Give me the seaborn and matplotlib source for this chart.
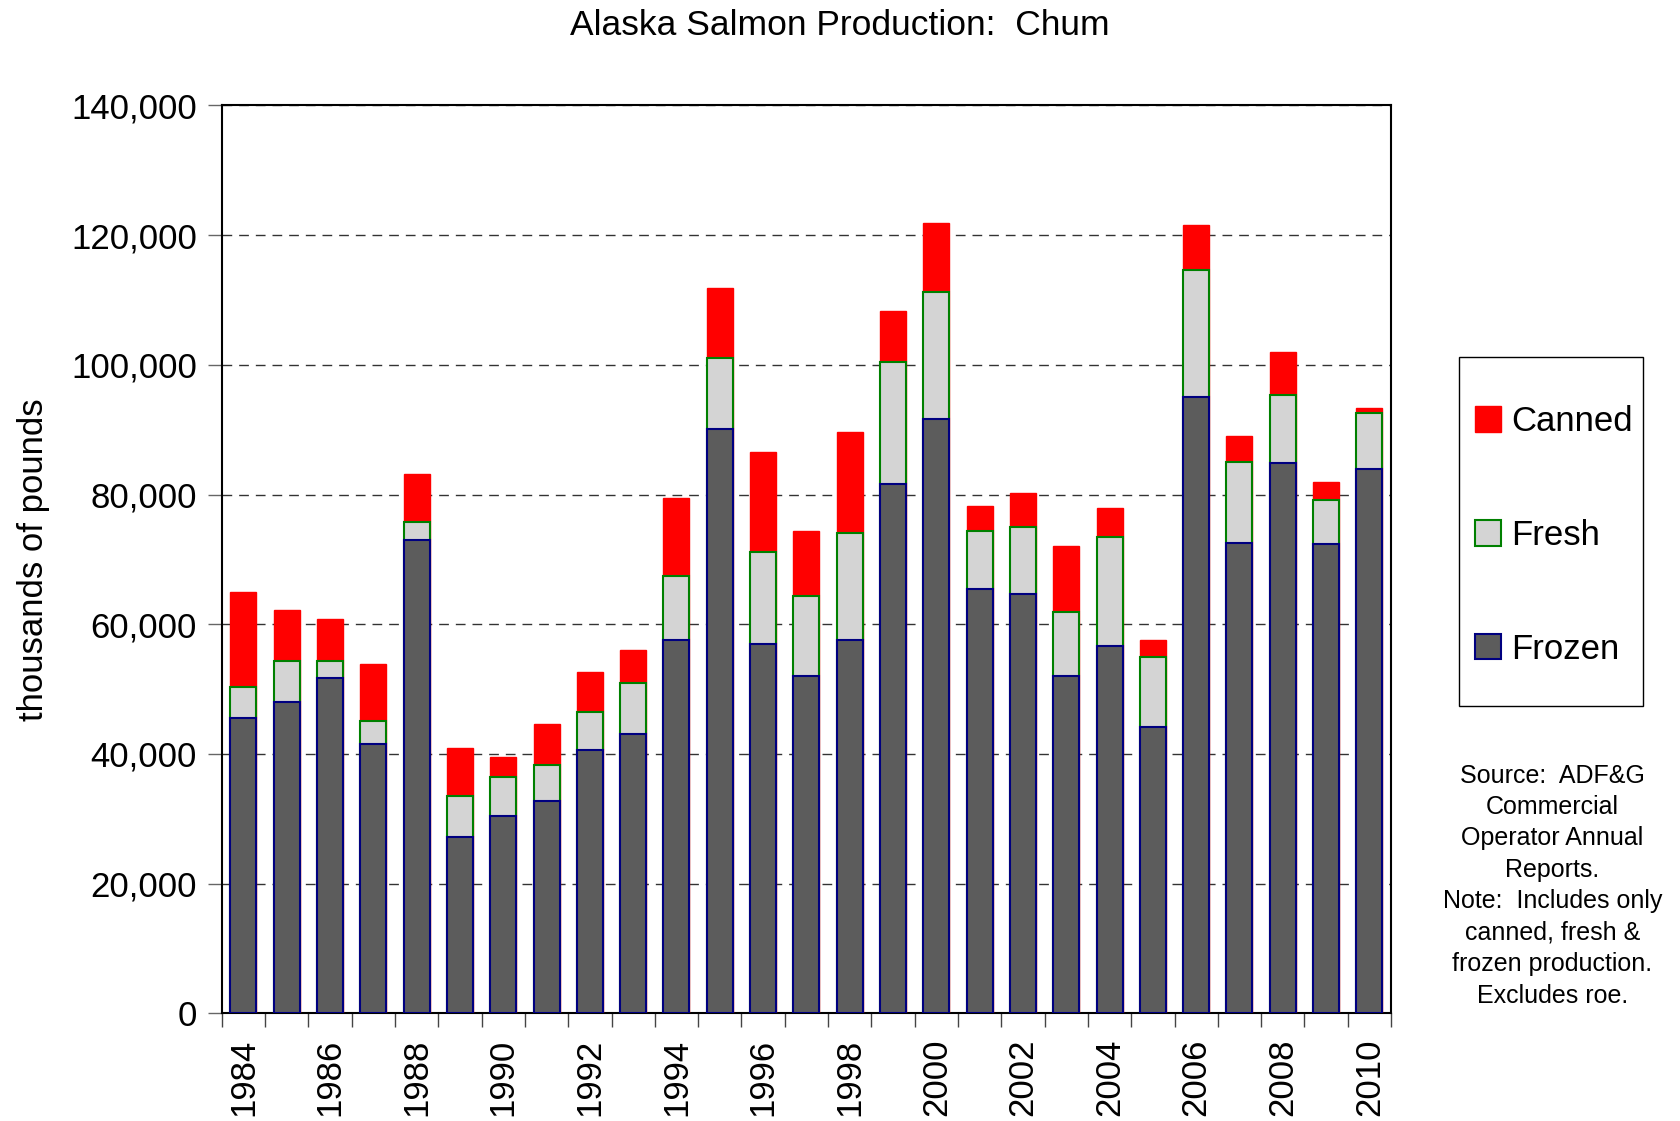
import pandas as pd
import seaborn as sns
import matplotlib.pyplot as plt
from matplotlib.patches import Patch, Rectangle

# --- data (thousands of pounds) ---
years = list(range(1984, 2011))
frozen = [45.6, 48.0, 51.7, 41.6, 73.0, 27.2, 30.5, 32.7, 40.6, 43.1,
          57.6, 90.1, 57.0, 52.0, 57.6, 81.6, 91.6, 65.5, 64.6, 52.0,
          56.6, 44.2, 95.1, 72.6, 84.9, 72.3, 84.0]
fresh = [4.8, 6.3, 2.6, 3.5, 2.8, 6.3, 6.0, 5.6, 5.8, 7.9,
         9.9, 10.9, 14.2, 12.4, 16.5, 18.8, 19.7, 8.8, 10.4, 9.9,
         16.9, 10.8, 19.5, 12.4, 10.5, 6.9, 8.5]
canned = [14.6, 7.9, 6.5, 8.7, 7.4, 7.4, 3.0, 6.3, 6.3, 5.1,
          11.9, 10.9, 15.3, 9.9, 15.5, 7.9, 10.5, 4.0, 5.2, 10.1,
          4.4, 2.5, 6.9, 4.0, 6.5, 2.7, 0.8]

df = pd.DataFrame({"year": [str(y) for y in years],
                   "frozen": frozen, "fresh": fresh, "canned": canned})
df[["frozen", "fresh", "canned"]] *= 1000
# cumulative heights for the layered (stacked) look
df["top_fresh"] = df["frozen"] + df["fresh"]
df["top_canned"] = df["top_fresh"] + df["canned"]

sns.set_theme(style="white")
plt.rcParams["font.family"] = ["Liberation Sans", "DejaVu Sans"]
plt.rcParams["text.color"] = "black"
plt.rcParams["axes.labelcolor"] = "black"

fig = plt.figure(figsize=(16.8, 11.21), dpi=100)
ax = fig.add_axes([0.132, 0.096, 0.696, 0.810])

c_red, c_fresh, c_frozen = "#ff0000", "#d4d4d4", "#5c5c5c"

# draw the tallest layer first, then cover it
sns.barplot(data=df, x="year", y="top_canned", color=c_red, saturation=1,
            width=0.6, edgecolor=c_red, linewidth=1, ax=ax, zorder=3)
sns.barplot(data=df, x="year", y="top_fresh", color=c_fresh, saturation=1,
            width=0.6, edgecolor="green", linewidth=1.5, ax=ax, zorder=3)
sns.barplot(data=df, x="year", y="frozen", color=c_frozen, saturation=1,
            width=0.6, edgecolor="navy", linewidth=1.5, ax=ax, zorder=3)

ax.set_ylim(0, 140000)
ax.set_xlim(-0.5, len(years) - 0.5)
ax.set_yticks(range(0, 140001, 20000))
ax.set_yticklabels([f"{v:,}" for v in range(0, 140001, 20000)])
ax.yaxis.grid(True, color="#333333", linestyle=(0, (7, 5)), linewidth=1, zorder=0)
ax.tick_params(axis="y", left=True, length=10, width=1, pad=8,
               labelsize=25, color="#666666", labelcolor="black")

# year labels every other bar, ticks at the category boundaries
ax.set_xticks(range(0, len(years), 2))
ax.set_xticklabels(years[::2], rotation=90)
ax.set_xticks([i - 0.5 for i in range(len(years) + 1)], minor=True)
ax.tick_params(axis="x", which="major", length=0, pad=18, labelsize=25,
               labelcolor="black")
ax.tick_params(axis="x", which="minor", bottom=True, length=10, width=1, color="#444444")

ax.set_xlabel("")
ax.set_ylabel("thousands of pounds", fontsize=25, labelpad=15)
for s in ax.spines.values():
    s.set_color("black")
    s.set_linewidth(1.5)

fig.text(0.5, 0.977, "Alaska Salmon Production:  Chum", ha="center", va="center",
         fontsize=25.5)

# legend box drawn separately so the wide vertical spacing fits a narrow frame
fig.patches.append(Rectangle((1459 / 1680, 1 - 706 / 1121), 184 / 1680, 349 / 1121,
                             transform=fig.transFigure, facecolor="white",
                             edgecolor="black", linewidth=1, zorder=1))
handles = [Patch(facecolor=c_red, edgecolor=c_red, label="Canned"),
           Patch(facecolor=c_fresh, edgecolor="green", linewidth=1.5, label="Fresh"),
           Patch(facecolor=c_frozen, edgecolor="navy", linewidth=1.5, label="Frozen")]
leg = fig.legend(handles=handles, loc="upper left",
                 bbox_to_anchor=(1475 / 1680, 1 - 405 / 1121),
                 fontsize=25, frameon=False, handlelength=0.75, handleheight=0.75,
                 handletextpad=0.3, labelspacing=2.33, borderpad=0, borderaxespad=0)
leg.set_zorder(2)

fig.text(0.924, 0.21, "Source:  ADF&G\nCommercial\nOperator Annual\nReports.\n"
         "Note:  Includes only\ncanned, fresh &\nfrozen production.\nExcludes roe.",
         ha="center", va="center", multialignment="center", fontsize=18,
         linespacing=1.39)

fig.savefig("out.png", dpi=100)
